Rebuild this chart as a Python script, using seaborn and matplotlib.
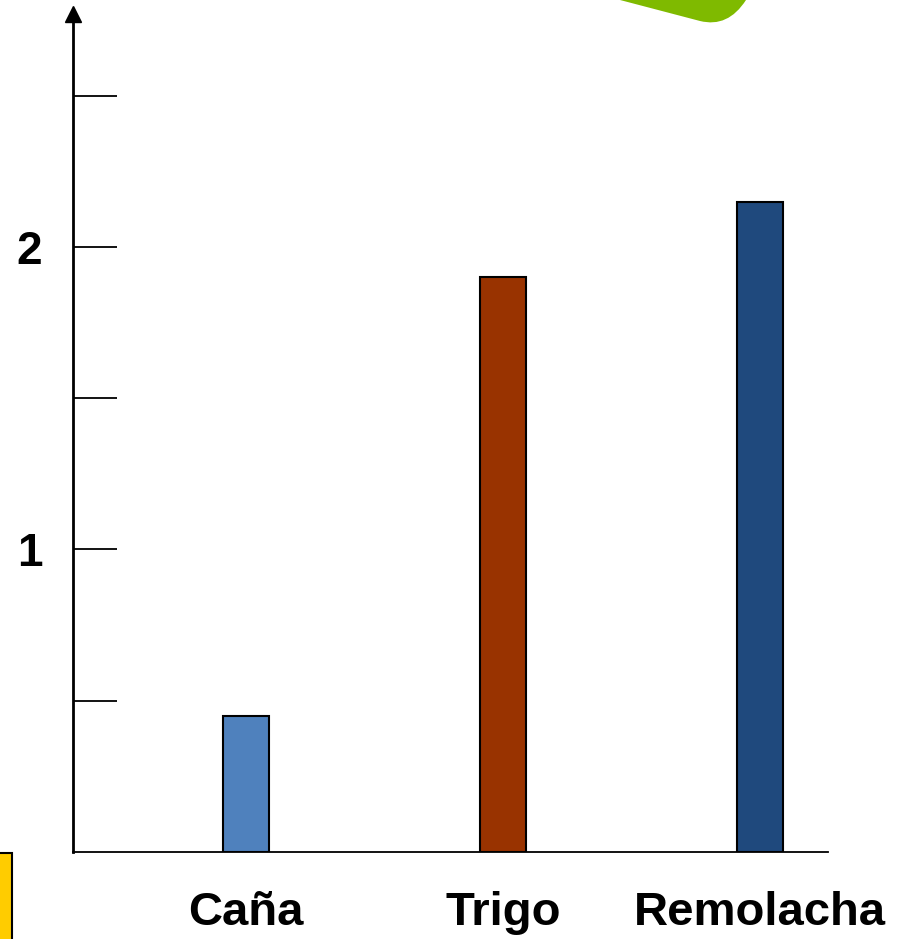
import matplotlib
matplotlib.use("Agg")
import matplotlib.pyplot as plt
from matplotlib.patches import Rectangle, PathPatch
from matplotlib.path import Path
from matplotlib.ticker import FixedLocator, FixedFormatter
import seaborn as sns
import pandas as pd

# Data
categories = ["Caña", "Trigo", "Remolacha"]
values = [0.45, 1.90, 2.15]
bar_colors = ["#4F81BD", "#993300", "#1F497D"]
ytick_values = [0.5, 1.0, 1.5, 2.0, 2.5]
ytick_labels = ["", "1", "", "2", ""]

sns.set_theme(style="white")
plt.rcParams["font.family"] = ["Liberation Sans", "DejaVu Sans"]

W, H = 912, 939
fig = plt.figure(figsize=(W / 100, H / 100), dpi=100)

# Axes placement in pixel terms
left_px, right_px, bottom_px, top_px = 73, 828, 852, 14
ax = fig.add_axes([left_px / W, (H - bottom_px) / H,
                   (right_px - left_px) / W, (bottom_px - top_px) / H])

df = pd.DataFrame({"cat": categories, "val": values})
sns.barplot(data=df, x="cat", y="val", hue="cat", palette=bar_colors,
            width=0.18, edgecolor="black", linewidth=1.5, legend=False,
            ax=ax, saturation=1)

ax.set_xlim(-0.673, 2.265)
ax.set_ylim(0, 2.770)
ax.set_xlabel("")
ax.set_ylabel("")

for side in ("top", "right"):
    ax.spines[side].set_visible(False)
for side in ("left", "bottom"):
    ax.spines[side].set_color("black")
ax.spines["left"].set_linewidth(2.0)
ax.spines["bottom"].set_linewidth(1.3)

ax.yaxis.set_major_locator(FixedLocator(ytick_values))
ax.yaxis.set_major_formatter(FixedFormatter(ytick_labels))
ax.tick_params(axis="y", direction="in", length=32, width=1.3, color="black",
               pad=22, labelsize=33, left=True)
ax.tick_params(axis="x", length=0, pad=28, labelsize=34)
for lab in ax.get_xticklabels() + ax.get_yticklabels():
    lab.set_fontweight("bold")
    lab.set_color("black")

# Arrow head on the vertical axis
ax.plot([0], [1], marker="^", markersize=12, color="black",
        transform=ax.transAxes, clip_on=False)

# Decorative shapes
def px(x, y):
    return (x / W, 1 - y / H)

green_verts = [px(620, -5), px(620, 0), px(700, 21), px(728, 28), px(746, 0),
               px(750, -5), px(620, -5)]
green_codes = [Path.MOVETO, Path.LINETO, Path.LINETO, Path.CURVE3, Path.CURVE3,
               Path.LINETO, Path.CLOSEPOLY]
fig.patches.append(PathPatch(Path(green_verts, green_codes), facecolor="#7FBA00",
                             edgecolor="none", transform=fig.transFigure))

fig.patches.append(Rectangle(px(-5, 945), 17 / W, 92 / H, facecolor="#FFCC00",
                             edgecolor="black", linewidth=1.5,
                             transform=fig.transFigure))

fig.savefig("out.png", dpi=100)
